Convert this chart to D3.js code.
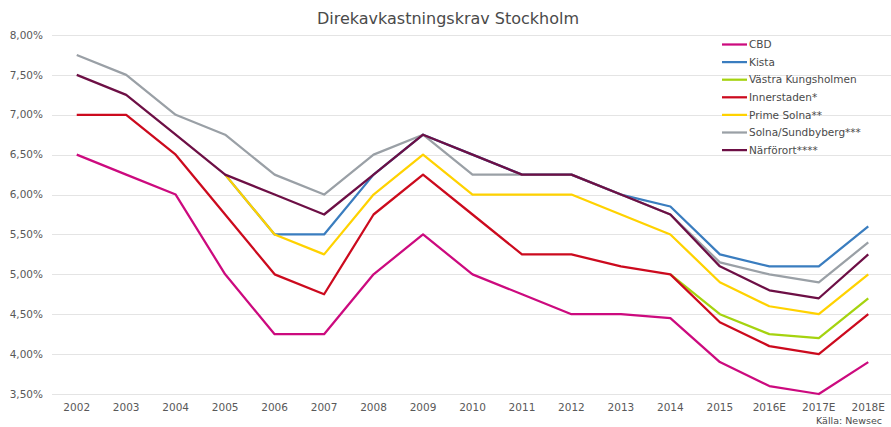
<!DOCTYPE html>
<html>
<head>
<meta charset="UTF-8">
<title>Direkavkastningskrav Stockholm</title>
<script src="https://d3js.org/d3.v7.min.js"></script>
<style>
  body { margin: 0; background: #fff; }
  text { font-family: "DejaVu Sans", sans-serif; }
  .grid line { stroke: #e4e4e4; stroke-width: 1; }
  .tick-label { font-size: 10.5px; fill: #595959; }
  .legend text { font-size: 10.5px; fill: #4a4a4a; }
</style>
</head>
<body>
<div id="chart"></div>
<script>
var years = ["2002","2003","2004","2005","2006","2007","2008","2009","2010",
             "2011","2012","2013","2014","2015","2016E","2017E","2018E"];

var cbd         = [6.50,6.25,6.00,5.00,4.25,4.25,5.00,5.50,5.00,4.75,4.50,4.50,4.45,3.90,3.60,3.50,3.90];
var kista       = [null,null,null,6.25,5.50,5.50,6.25,6.75,6.50,6.25,6.25,6.00,5.85,5.25,5.10,5.10,5.60];
var vastra      = [null,null,null,null,null,null,null,null,null,null,null,null,5.00,4.50,4.25,4.20,4.70];
var innerstaden = [7.00,7.00,6.50,5.75,5.00,4.75,5.75,6.25,5.75,5.25,5.25,5.10,5.00,4.40,4.10,4.00,4.50];
var primeSolna  = [null,null,null,6.25,5.50,5.25,6.00,6.50,6.00,6.00,6.00,5.75,5.50,4.90,4.60,4.50,5.00];
var solnaSundb  = [7.75,7.50,7.00,6.75,6.25,6.00,6.50,6.75,6.25,6.25,6.25,6.00,5.75,5.15,5.00,4.90,5.40];
var narforort   = [7.50,7.25,6.75,6.25,6.00,5.75,6.25,6.75,6.50,6.25,6.25,6.00,5.75,5.10,4.80,4.70,5.25];

var seriesNames  = ["CBD","Kista","Västra Kungsholmen","Innerstaden*","Prime Solna**","Solna/Sundbyberg***","Närförort****"];
var seriesValues = [cbd, kista, vastra, innerstaden, primeSolna, solnaSundb, narforort];
var seriesColors = ["#cc0a7e","#3a7dbf","#a5d30f","#cc0a1e","#ffd200","#9aa0a6","#6d0f45"];

var yTicks = [3.5,4,4.5,5,5.5,6,6.5,7,7.5,8];

var width = 891, height = 427;

var svg = d3.select("#chart").append("svg")
    .attr("width", width).attr("height", height);

var x = d3.scaleBand().domain(years).range([52, 893]);
var y = d3.scaleLinear().domain([3.5, 8]).range([394, 35]);

var sv = d3.formatLocale({decimal: ",", thousands: " ", grouping: [3], currency: ["", " kr"]});
var fmt = sv.format(".2f");

// gridlines
svg.append("g").attr("class", "grid")
    .selectAll("line").data(yTicks).enter().append("line")
    .attr("x1", 52).attr("x2", 893)
    .attr("y1", function (d) { return Math.round(y(d)) + 0.5; })
    .attr("y2", function (d) { return Math.round(y(d)) + 0.5; });

// y labels
svg.append("g").selectAll("text").data(yTicks).enter().append("text")
    .attr("class", "tick-label")
    .attr("x", 43).attr("y", function (d) { return y(d); })
    .attr("dy", "0.35em").attr("text-anchor", "end")
    .text(function (d) { return fmt(d) + "%"; });

// x labels
svg.append("g").selectAll("text").data(years).enter().append("text")
    .attr("class", "tick-label")
    .attr("x", function (d) { return x(d) + x.bandwidth() / 2; })
    .attr("y", 411).attr("text-anchor", "middle")
    .text(function (d) { return d; });

// title
svg.append("text")
    .attr("x", 448).attr("y", 24)
    .attr("text-anchor", "middle")
    .style("font-size", "16px").style("fill", "#4a4a4a")
    .text("Direkavkastningskrav Stockholm");

// source
svg.append("text")
    .attr("x", 882).attr("y", 424)
    .attr("text-anchor", "end")
    .style("font-size", "9.5px").style("fill", "#4a4a4a")
    .text("Källa: Newsec");

var line = d3.line()
    .defined(function (d) { return d.v != null; })
    .x(function (d) { return x(d.year) + x.bandwidth() / 2; })
    .y(function (d) { return y(d.v); });

seriesValues.forEach(function (vals, i) {
    var pts = years.map(function (yr, j) { return {year: yr, v: vals[j]}; });
    svg.append("path")
        .datum(pts)
        .attr("fill", "none")
        .attr("stroke", seriesColors[i])
        .attr("stroke-width", 2.25)
        .attr("stroke-linejoin", "round")
        .attr("d", line);
});

// legend
var legend = svg.append("g").attr("class", "legend");
seriesNames.forEach(function (name, i) {
    var ly = 44.5 + i * 17.6;
    legend.append("line")
        .attr("x1", 722).attr("x2", 747)
        .attr("y1", ly).attr("y2", ly)
        .attr("stroke", seriesColors[i]).attr("stroke-width", 2.25);
    legend.append("text")
        .attr("x", 749).attr("y", ly).attr("dy", "0.35em")
        .text(name);
});
</script>
</body>
</html>
